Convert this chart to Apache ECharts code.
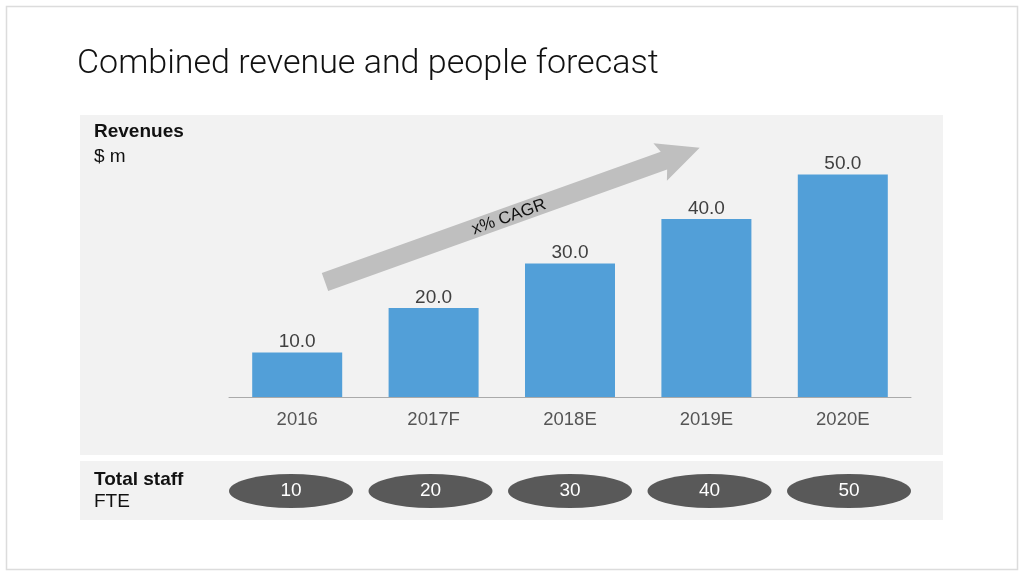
<!DOCTYPE html>
<html>
<head>
<meta charset="utf-8">
<title>Combined revenue and people forecast</title>
<script src="https://cdn.jsdelivr.net/npm/echarts@6/dist/echarts.min.js"></script>
<style>
  html, body { margin: 0; padding: 0; background: #fff; }
  #chart { width: 1024px; height: 576px; }
</style>
</head>
<body>
<div id="chart"></div>
<script>
// data
var years = ['2016', '2017F', '2018E', '2019E', '2020E'];
var revenues = [10, 20, 30, 40, 50];
var staff = [10, 20, 30, 40, 50];

var FONT = '"Helvetica Neue", Helvetica, Arial, "Liberation Sans", sans-serif';

var chart = echarts.init(document.getElementById('chart'));

var option = {
  backgroundColor: '#fff',
  animation: false,
  textStyle: { fontFamily: FONT },
  // background panels, titles and the CAGR arrow
  graphic: [
    { type: 'rect', z: -10, shape: { x: 6.5, y: 6.5, width: 1011, height: 563 },
      style: { fill: '#fff', stroke: '#dcdcdc', lineWidth: 1.5 } },
    { type: 'rect', z: -9, shape: { x: 80, y: 115, width: 863, height: 340 },
      style: { fill: '#f2f2f2' } },
    { type: 'rect', z: -9, shape: { x: 80, y: 461, width: 863, height: 59 },
      style: { fill: '#f2f2f2' } },
    { type: 'text', left: 77, top: 47,
      style: { text: 'Combined revenue and people forecast', fill: '#111',
               font: '300 34px Roboto, ' + FONT } },
    { type: 'text', left: 94, top: 122,
      style: { text: 'Revenues', fill: '#111', font: 'bold 19px ' + FONT } },
    { type: 'text', left: 94, top: 147,
      style: { text: '$ m', fill: '#111', font: '19px ' + FONT } },
    { type: 'text', left: 94, top: 470,
      style: { text: 'Total staff', fill: '#111', font: 'bold 19px ' + FONT } },
    { type: 'text', left: 94, top: 492,
      style: { text: 'FTE', fill: '#111', font: '19px ' + FONT } },
    // arrow: drawn along x, then rotated
    { type: 'polygon', x: 325, y: 282, rotation: 19.7 * Math.PI / 180, z: 5,
      shape: { points: [[0, -9.5], [360, -9.5], [356, -20], [398, 0], [356, 20], [360, 9.5], [0, 9.5]] },
      style: { fill: '#bfbfbf' } },
    { type: 'text', x: 509, y: 217, rotation: 19.7 * Math.PI / 180, z: 6,
      style: { text: 'x% CAGR', fill: '#111', font: '17px ' + FONT,
               align: 'center', verticalAlign: 'middle' } }
  ],
  grid: [
    { left: 229, right: 113, top: 130, bottom: 179 },
    { left: 291, right: 175, top: 473, bottom: 67 }
  ],
  xAxis: [
    {
      gridIndex: 0,
      type: 'category',
      data: years,
      axisLine: { lineStyle: { color: '#aaaaaa', width: 1 } },
      axisTick: { show: false },
      axisLabel: { color: '#555', fontSize: 18.5, margin: 13, fontFamily: FONT }
    },
    {
      gridIndex: 1,
      type: 'category',
      data: years,
      boundaryGap: false,
      show: false
    }
  ],
  yAxis: [
    { gridIndex: 0, type: 'value', min: 0, max: 60, show: false },
    { gridIndex: 1, type: 'value', min: 0, max: 1, show: false }
  ],
  series: [
    {
      name: 'Revenues',
      type: 'bar',
      xAxisIndex: 0,
      yAxisIndex: 0,
      data: revenues,
      barWidth: 90,
      itemStyle: { color: '#529fd8' },
      label: {
        show: true,
        position: 'top',
        distance: 1,
        color: '#404040',
        fontSize: 19,
        fontFamily: FONT,
        formatter: function (p) { return p.value.toFixed(1); }
      }
    },
    {
      name: 'Total staff',
      type: 'scatter',
      xAxisIndex: 1,
      yAxisIndex: 1,
      data: staff.map(function (v, i) { return [i, 0.5, v]; }),
      symbol: 'circle',
      symbolSize: [124, 34],
      itemStyle: { color: '#595959', opacity: 1 },
      label: {
        show: true,
        position: 'inside',
        color: '#fff',
        fontSize: 19,
        fontFamily: FONT,
        formatter: function (p) { return String(p.value[2]); }
      }
    }
  ]
};

chart.setOption(option);
</script>
</body>
</html>
